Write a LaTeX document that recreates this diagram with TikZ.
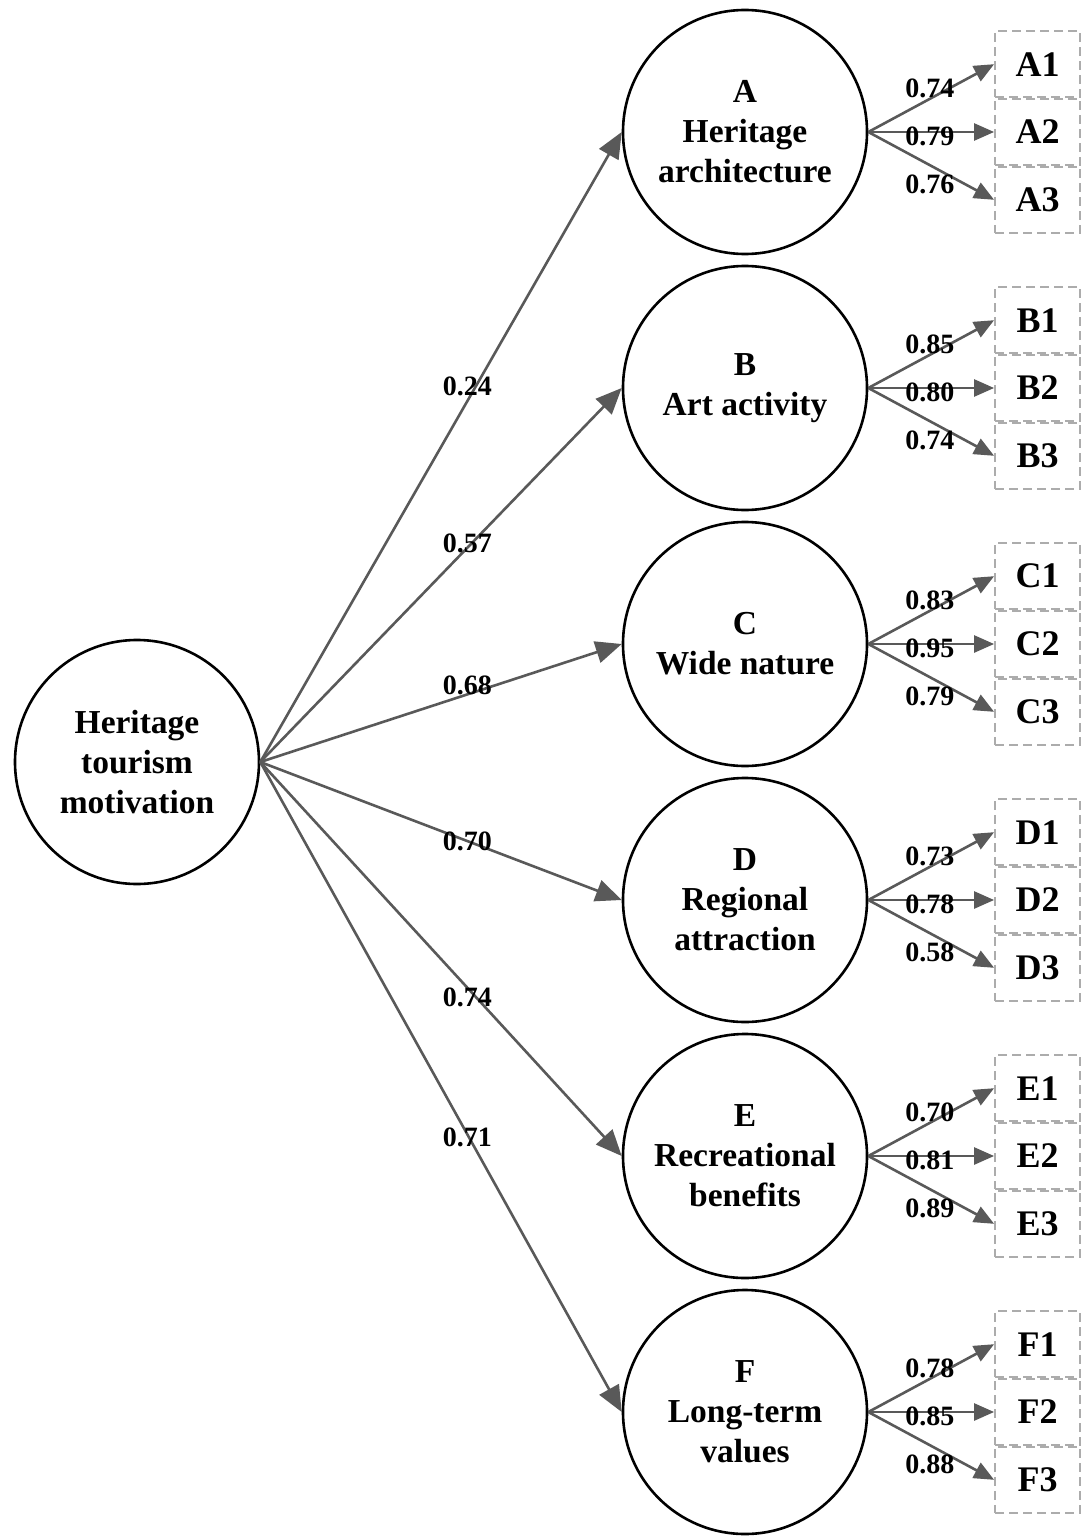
\documentclass[tikz,border=0pt]{standalone}
\usepackage{fontspec}
\setmainfont{Liberation Serif}
\usetikzlibrary{arrows.meta,positioning}

\begin{document}
\begin{tikzpicture}[x=1pt,y=-1pt,
  latent/.style={circle,draw,line width=2.6pt,minimum size=244pt,inner sep=0pt,
    align=center,font=\fontsize{33.5}{40}\selectfont\bfseries},
  item/.style={draw=gray!65,dash pattern=on 9pt off 5pt,line width=1.8pt,
    minimum width=85pt,minimum height=66pt,inner sep=0pt,
    font=\fontsize{36}{40}\selectfont\bfseries},
  effect/.style={draw=gray!70!black,line width=2.6pt,-{Triangle[length=26pt,width=22pt]}},
  loadarrow/.style={draw=gray!70!black,line width=2.6pt,-{Triangle[length=20pt,width=17pt]}},
  coef/.style={font=\fontsize{28}{30}\selectfont\bfseries,inner sep=0pt},
]
  \useasboundingbox (0,0) rectangle (1088,1538);

  \node[latent] (htm) at (137,762) {Heritage\\tourism\\motivation};

  \node[latent] (A) at (745,132)  {A\\Heritage\\architecture};
  \node[latent] (B) at (745,388)  {B\\Art activity};
  \node[latent] (C) at (745,644)  {C\\Wide nature};
  \node[latent] (D) at (745,900)  {D\\Regional\\attraction};
  \node[latent] (E) at (745,1156) {E\\Recreational\\benefits};
  \node[latent] (F) at (745,1412) {F\\Long-term\\values};

  % paths from the second-order factor
  \foreach \f/\v/\dy in {A/0.24/15,B/0.57/4,C/0.68/9,D/0.70/0,E/0.74/-10,F/0.71/-3}
    \draw[effect] (htm.east) -- (\f.west) node[coef,pos=0.573,yshift=\dy pt] {\v};

  % observed items and loadings
  \foreach \f/\a/\b/\c in {A/0.74/0.79/0.76,B/0.85/0.80/0.74,C/0.83/0.95/0.79,
                           D/0.73/0.78/0.58,E/0.70/0.81/0.89,F/0.78/0.85/0.88}{
    \node[item] (\f2) at (\f.center -| 1037.5,0) {\f2};
    \node[item,above=0pt of \f2] (\f1) {\f1};
    \node[item,below=0pt of \f2] (\f3) {\f3};
    \draw[loadarrow] (\f.east) -- (\f1.west) node[coef,pos=0.49,yshift=10pt] {\a};
    \draw[loadarrow] (\f.east) -- (\f2.west) node[coef,pos=0.49,yshift=-4pt] {\b};
    \draw[loadarrow] (\f.east) -- (\f3.west) node[coef,pos=0.49,yshift=-19pt] {\c};
  }
\end{tikzpicture}
\end{document}
